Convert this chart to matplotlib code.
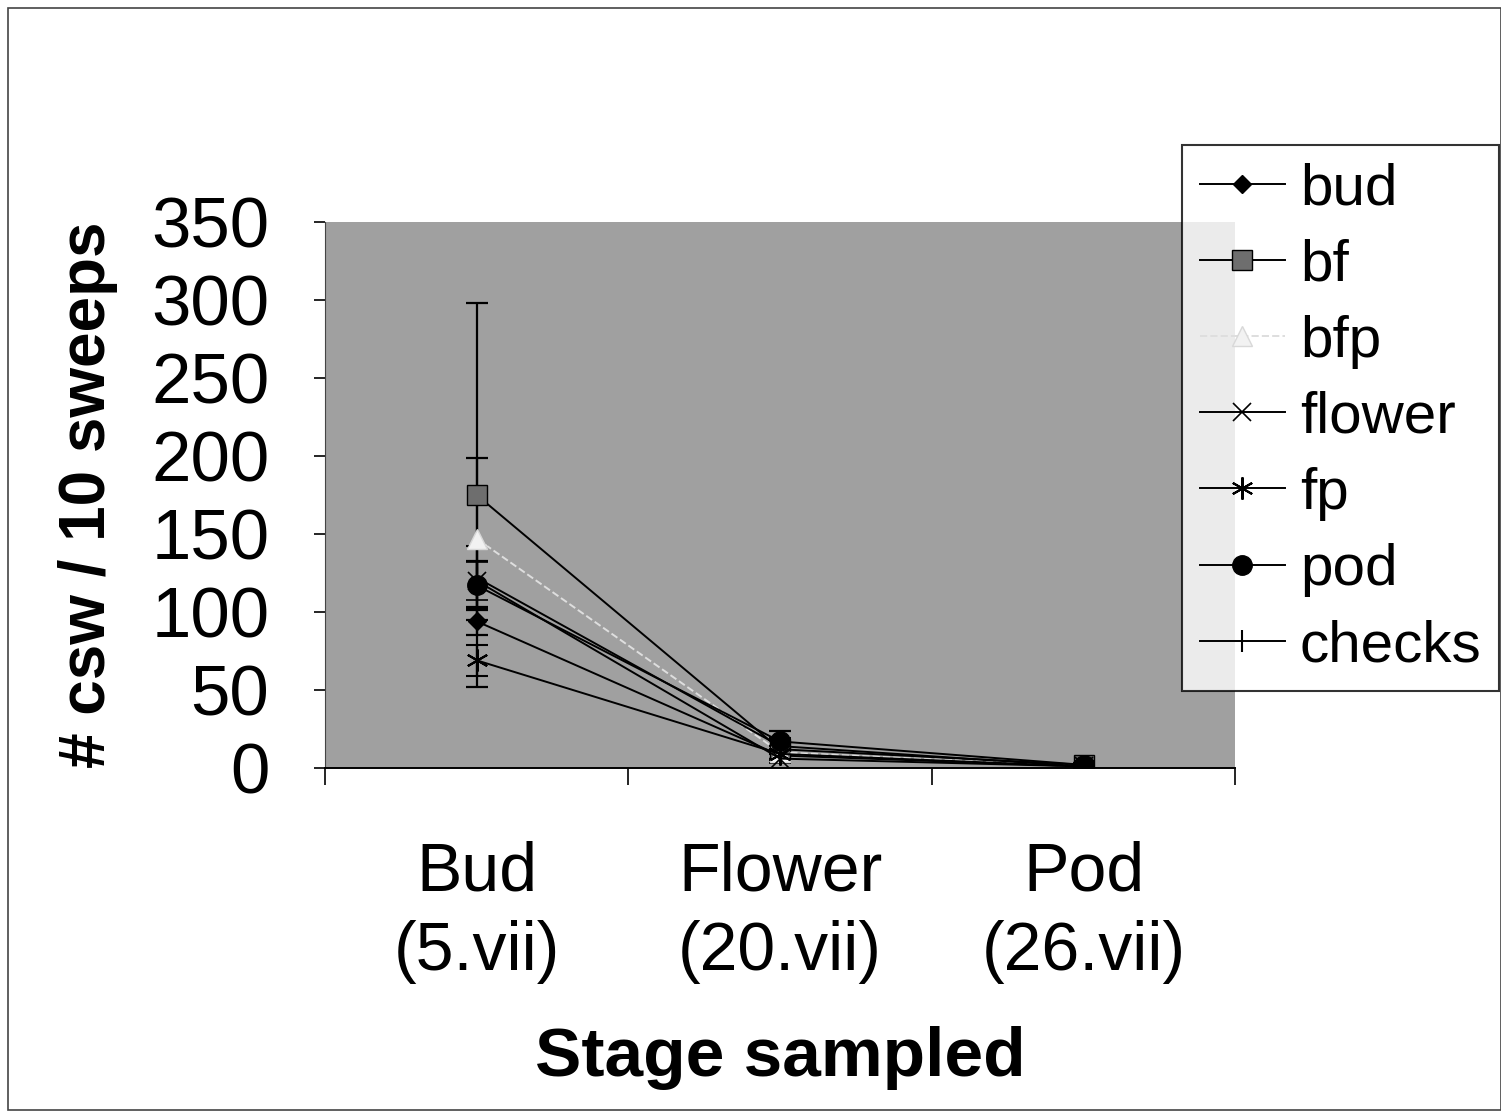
import numpy as np
import matplotlib
matplotlib.use('Agg')
import matplotlib.pyplot as plt
from matplotlib.patches import Rectangle
from matplotlib.lines import Line2D

plt.rcParams['font.family'] = ['Liberation Sans', 'DejaVu Sans']

# stages sampled
stages = ['Bud\n(5.vii)', 'Flower\n(20.vii)', 'Pod\n(26.vii)']

# mean csw per 10 sweeps for each treatment
series = ['bud', 'bf', 'bfp', 'flower', 'fp', 'pod', 'checks']
bud = [94, 8, 1]
bf = [175, 12, 2]
bfp = [147, 10, 1]
flower = [120, 6, 1]
fp = [69, 9, 1]
pod = [117, 17, 2]
checks = [122, 14, 1]

# error bar half widths
bud_err = [9, 3, 1]
bf_err = [123, 6, 1]
bfp_err = [52, 4, 1]
flower_err = [12, 3, 1]
fp_err = [10, 3, 1]
pod_err = [16, 7, 1]
checks_err = [20, 5, 1]

values = [bud, bf, bfp, flower, fp, pod, checks]
errors = [bud_err, bf_err, bfp_err, flower_err, fp_err, pod_err, checks_err]
styles = [
    dict(marker='D', ms=9, mfc='black', mec='black', color='black', ls='-'),
    dict(marker='s', ms=14, mfc='#6e6e6e', mec='black', color='black', ls='-'),
    dict(marker='^', ms=15, mfc='#f2f2f2', mec='#d8d8d8', color='#dedede', ls='--'),
    dict(marker='x', ms=13, mfc='none', mec='black', color='black', ls='-', mew=1.2),
    dict(marker=(6, 2, 0), ms=16, mfc='black', mec='black', color='black', ls='-', mew=1.5),
    dict(marker='o', ms=14, mfc='black', mec='black', color='black', ls='-'),
    dict(marker='|', ms=16, mfc='black', mec='black', color='black', ls='-', mew=1.5),
]

fig = plt.figure(figsize=(15.01, 11.13), dpi=100)
ax = fig.add_axes([0.2165, 0.31, 0.6065, 0.4905])
ax.set_facecolor('#a0a0a0')

x = np.arange(1, len(stages) + 1)
handles = []
for name, v, e, st in zip(series, values, errors, styles):
    ax.errorbar(x, v, yerr=e, lw=1.4, capsize=8, capthick=1.6,
                elinewidth=1.6, ecolor='black', **st)
    handles.append(Line2D([], [], lw=1.4, label=name, **st))

ax.set_xlim(0.5, 3.5)
ax.set_ylim(0, 350)
ax.set_yticks(np.arange(0, 351, 50))
ax.set_xticks(x)
ax.set_xticklabels(stages, fontsize=49, linespacing=1.32)
ax.set_xticks([0.5, 1.5, 2.5, 3.5], minor=True)
ax.tick_params(axis='x', which='major', length=0, pad=52)
ax.tick_params(axis='x', which='minor', length=12, width=1.2, direction='out')
ax.tick_params(axis='y', labelsize=51, length=8, width=1.2, direction='out', pad=32)
for s in ['top', 'right']:
    ax.spines[s].set_visible(False)
ax.spines['left'].set_color('#444444')
ax.spines['bottom'].set_linewidth(1.4)

ax.set_xlabel('Stage sampled', fontsize=50, fontweight='bold', labelpad=30)
ax.set_ylabel('# csw / 10 sweeps', fontsize=46, fontweight='bold', labelpad=24)

leg = fig.legend(handles=handles, loc='upper left', bbox_to_anchor=(0.7875, 0.87),
                 fontsize=42, frameon=True, fancybox=False, edgecolor='black',
                 handlelength=1.46, handletextpad=0.26, borderpad=0.3,
                 labelspacing=0.38, borderaxespad=0)
leg.get_frame().set_linewidth(1.5)

# outer frame of the page
fig.patches.append(Rectangle((0.005, 0.003), 0.995, 0.99, transform=fig.transFigure,
                             fill=False, edgecolor='#444444', lw=1.2))

fig.savefig('out.png', dpi=100)
